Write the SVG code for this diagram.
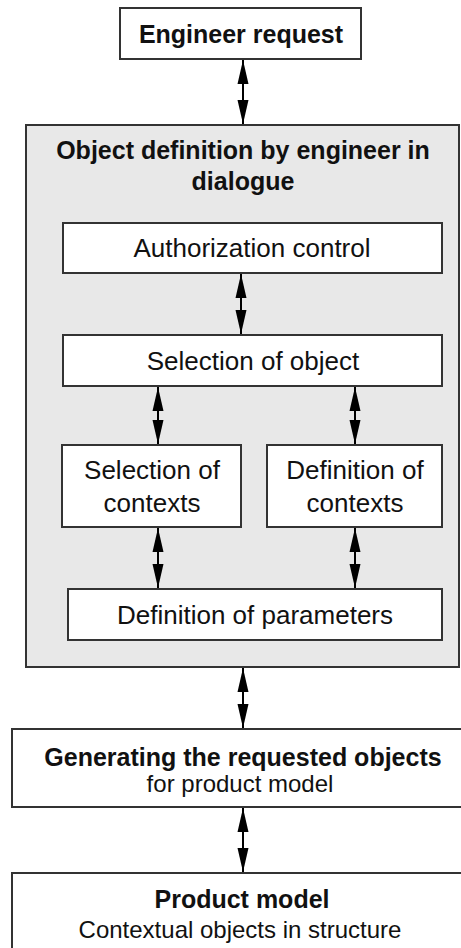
<svg xmlns="http://www.w3.org/2000/svg" width="461" height="948" viewBox="0 0 461 948">
  <style>
    .box { fill: #ffffff; stroke: #333333; stroke-width: 2; }
    .panel { fill: #e8e8e8; stroke: #333333; stroke-width: 2; }
    .t { font-family: "Liberation Sans", Arial, sans-serif; fill: #111111; text-anchor: middle; }
    .b { font-weight: bold; font-size: 25px; }
    .r { font-size: 26px; }
    .s { font-size: 24px; }
    .link { stroke: #000000; stroke-width: 2; fill: none; marker-start: url(#head); marker-end: url(#head); }
  </style>
  <defs>
    <!-- slender double-ended arrowhead used by every connector -->
    <marker id="head" viewBox="0 -6 24 12" refX="24" refY="0" markerWidth="24" markerHeight="12" markerUnits="userSpaceOnUse" orient="auto-start-reverse">
      <path d="M0,-5.5 L24,0 L0,5.5 z" fill="#000000"/>
    </marker>
  </defs>

  <rect width="461" height="948" fill="#ffffff"/>

  <g id="engineer-request">
    <rect class="box" x="120" y="8" width="241" height="51"/>
    <text class="t b" x="241" y="43">Engineer request</text>
  </g>

  <g id="object-definition">
    <rect class="panel" x="26" y="125" width="433" height="542"/>
    <text class="t b" x="243" y="159">Object definition by engineer in</text>
    <text class="t b" x="243" y="190">dialogue</text>
  </g>

  <g id="authorization-control">
    <rect class="box" x="63" y="223" width="379" height="50"/>
    <text class="t r" x="252" y="257">Authorization control</text>
  </g>

  <g id="selection-of-object">
    <rect class="box" x="63" y="335" width="379" height="51"/>
    <text class="t r" x="253" y="370">Selection of object</text>
  </g>

  <g id="selection-of-contexts">
    <rect class="box" x="62" y="445" width="179" height="82"/>
    <text class="t r" x="152" y="479">Selection of</text>
    <text class="t r" x="152" y="512">contexts</text>
  </g>

  <g id="definition-of-contexts">
    <rect class="box" x="267" y="445" width="175" height="82"/>
    <text class="t r" x="355" y="479">Definition of</text>
    <text class="t r" x="355" y="512">contexts</text>
  </g>

  <g id="definition-of-parameters">
    <rect class="box" x="68" y="589" width="374" height="51"/>
    <text class="t r" x="255" y="624">Definition of parameters</text>
  </g>

  <g id="generating-objects">
    <rect class="box" x="12" y="729" width="470" height="78"/>
    <text class="t b" x="243" y="766">Generating the requested objects</text>
    <text class="t s" x="240" y="792">for product model</text>
  </g>

  <g id="product-model">
    <rect class="box" x="12" y="873" width="470" height="90"/>
    <text class="t b" x="242" y="908">Product model</text>
    <text class="t s" x="240" y="938">Contextual objects in structure</text>
  </g>

  <g id="connectors">
    <line class="link" x1="243" y1="60" x2="243" y2="124"/>
    <line class="link" x1="241" y1="274" x2="241" y2="334"/>
    <line class="link" x1="158" y1="387" x2="158" y2="444"/>
    <line class="link" x1="355" y1="387" x2="355" y2="444"/>
    <line class="link" x1="158" y1="528" x2="158" y2="588"/>
    <line class="link" x1="355" y1="528" x2="355" y2="588"/>
    <line class="link" x1="243" y1="668" x2="243" y2="728"/>
    <line class="link" x1="243" y1="808" x2="243" y2="872"/>
  </g>
</svg>
